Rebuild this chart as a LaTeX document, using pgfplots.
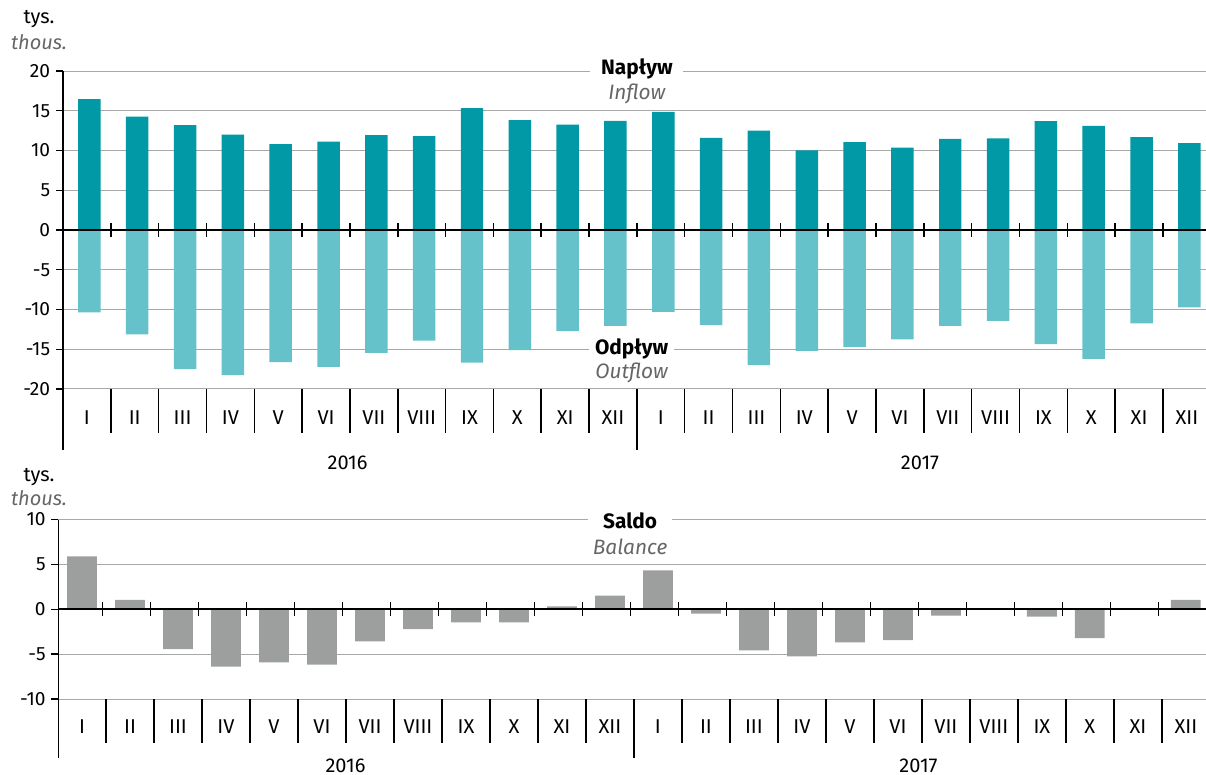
\documentclass[border=0pt]{standalone}
\usepackage{fontspec}
\setmainfont{Fira Sans}
\usepackage{pgfplots}
\usepackage{pgfplotstable}
\pgfplotsset{compat=1.18}
\definecolor{inflow}{HTML}{0099A5}
\definecolor{outflow}{HTML}{66C2CA}
\definecolor{bal}{HTML}{9D9E9E}
\definecolor{gridc}{HTML}{A8A8A8}
\definecolor{sub}{HTML}{666666}
\newcommand\tickfont{\fontsize{11.5}{13}\selectfont}
\newcommand\monthfont{\fontsize{12}{14}\selectfont}
\newcommand\titlefont{\fontsize{12.5}{15}\selectfont}

\pgfplotstableread{
x in out
0 16.46 -10.37
1 14.27 -13.14
2 13.18 -17.50
3 12.00 -18.26
4 10.79 -16.62
5 11.12 -17.21
6 11.92 -15.45
7 11.80 -13.90
8 15.32 -16.67
9 13.81 -15.11
10 13.27 -12.72
11 13.73 -12.05
12 14.86 -10.29
13 11.59 -11.96
14 12.51 -17.00
15 10.03 -15.20
16 11.04 -14.69
17 10.37 -13.77
18 11.46 -12.05
19 11.54 -11.42
20 13.69 -14.36
21 13.10 -16.20
22 11.67 -11.75
23 10.92 -9.74
}\flowdata

\pgfplotstableread{
x bal
0 5.90
1 1.04
2 -4.44
3 -6.38
4 -5.93
5 -6.16
6 -3.58
7 -2.20
8 -1.46
9 -1.46
10 0.34
11 1.53
12 4.33
13 -0.49
14 -4.59
15 -5.26
16 -3.69
17 -3.43
18 -0.71
19 -0.05
20 -0.82
21 -3.21
22 -0.05
23 1.04
}\baldata

\pgfplotsset{
  panel/.style={
    scale only axis, clip=false,
    axis line style={draw=none},
    ymajorgrids, major grid style={draw=gridc, line width=0.6pt},
    xtick={0,...,23},
    xticklabels={I,II,III,IV,V,VI,VII,VIII,IX,X,XI,XII,I,II,III,IV,V,VI,VII,VIII,IX,X,XI,XII},
    x tick style={draw=none},
    y tick style={black, line width=0.8pt},
    tick align=outside, major tick length=4.2pt,
    tick pos=left,
    xticklabel style={anchor=center, font=\monthfont},
    yticklabel style={font=\tickfont},
    /pgf/number format/assume math mode=true,
  }
}

\begin{document}
\begin{tikzpicture}
\path[use as bounding box] (0pt,0pt) rectangle (723.6pt,-465pt);

% unit labels
\node[anchor=base, font=\monthfont] at (23.4pt,-14pt) {tys.};
\node[anchor=base, font=\monthfont\itshape, text=sub] at (23.4pt,-29.6pt) {thous.};
\node[anchor=base, font=\monthfont] at (23.4pt,-289pt) {tys.};
\node[anchor=base, font=\monthfont\itshape, text=sub] at (23.4pt,-303.6pt) {thous.};

% ---------- top panel ----------
\begin{axis}[panel,
  at={(37.8pt,-233.4pt)}, anchor=south west,
  width=685.8pt, height=190.8pt,
  xmin=-0.5, xmax=23.4, ymin=-20, ymax=20,
  ytick={-20,-15,...,20},
  xticklabel style={yshift=-13.2pt},
]
\addplot[ybar, bar width=0.47, bar shift=1.5pt, fill=inflow, draw=none] table[x=x, y=in] {\flowdata};
\addplot[ybar, bar width=0.47, bar shift=1.5pt, fill=outflow, draw=none] table[x=x, y=out] {\flowdata};
\draw[black, line width=1.1pt] (axis cs:-0.5,0) -- (axis cs:23.4,0);
\pgfplotsinvokeforeach{0.5,1.5,...,22.5}{
  \draw[black, line width=0.9pt] (axis cs:#1,0.88) -- (axis cs:#1,-0.88);
  \draw[black, line width=0.9pt] (axis cs:#1,-20) -- (axis cs:#1,-25.53);
}
\draw[black, line width=1.1pt] (axis cs:-0.5,20) -- (axis cs:-0.5,-27.67);
\draw[black, line width=0.9pt] (axis cs:11.5,-20) -- (axis cs:11.5,-27.67);
\node[font=\monthfont] at (axis cs:5.45,-29.3) {2016};
\node[font=\monthfont] at (axis cs:17.42,-29.3) {2017};
\node[fill=white, minimum width=55.8pt, inner ysep=1pt, anchor=base, font=\titlefont\bfseries] at (axis cs:11.5,19.58) {Napływ};
\node[anchor=base, font=\titlefont\itshape, text=sub] at (axis cs:11.5,16.44) {Inflow};
\node[fill=white, minimum width=50.4pt, inner ysep=1pt, anchor=base, font=\titlefont\bfseries] at (axis cs:11.39,-15.64) {Odpływ};
\node[anchor=base, font=\titlefont\itshape, text=sub] at (axis cs:11.39,-18.65) {Outflow};
\end{axis}

% ---------- bottom panel ----------
\begin{axis}[panel,
  at={(35.1pt,-419.4pt)}, anchor=south west,
  width=688.5pt, height=107.64pt,
  xmin=-0.49, xmax=23.42, ymin=-10, ymax=10,
  ytick={-10,-5,0,5,10},
  xticklabel style={yshift=-12.6pt},
]
\addplot[ybar, bar width=0.62, bar shift=0pt, fill=bal, draw=none] table[x=x, y=bal] {\baldata};
\draw[black, line width=1.1pt] (axis cs:-0.49,0) -- (axis cs:23.42,0);
\pgfplotsinvokeforeach{0.431,1.431,...,22.431}{
  \draw[black, line width=0.9pt] (axis cs:#1,0.78) -- (axis cs:#1,-0.78);
}
\pgfplotsinvokeforeach{0.5,1.5,...,22.5}{
  \draw[black, line width=0.9pt] (axis cs:#1,-10) -- (axis cs:#1,-14.91);
}
\draw[black, line width=1.1pt] (axis cs:-0.49,10) -- (axis cs:-0.49,-16.59);
\draw[black, line width=0.9pt] (axis cs:11.5,-10) -- (axis cs:11.5,-16.59);
\node[font=\monthfont] at (axis cs:5.49,-17.4) {2016};
\node[font=\monthfont] at (axis cs:17.43,-17.4) {2017};
\node[fill=white, minimum width=50.4pt, inner ysep=1pt, anchor=base, font=\titlefont\bfseries] at (axis cs:11.42,9.03) {Saldo};
\node[anchor=base, font=\titlefont\itshape, text=sub] at (axis cs:11.42,6.12) {Balance};
\end{axis}
\end{tikzpicture}
\end{document}
